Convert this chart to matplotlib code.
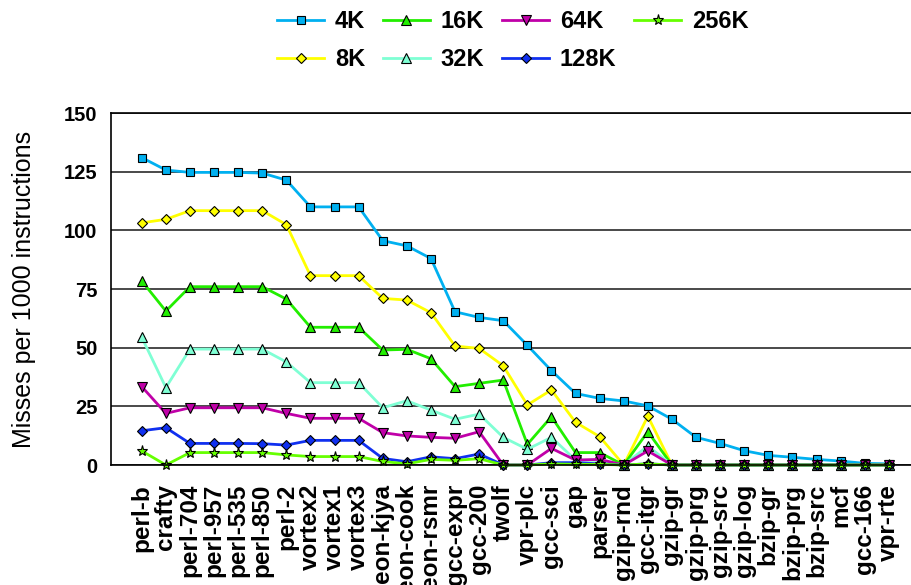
import matplotlib
matplotlib.use("Agg")
import matplotlib.pyplot as plt

plt.rcParams['font.family'] = ['Liberation Sans', 'DejaVu Sans']

benchmarks = ['perl-b', 'crafty', 'perl-704', 'perl-957', 'perl-535', 'perl-850',
              'perl-2', 'vortex2', 'vortex1', 'vortex3', 'eon-kjya', 'eon-cook',
              'eon-rsmr', 'gcc-expr', 'gcc-200', 'twolf', 'vpr-plc', 'gcc-sci',
              'gap', 'parser', 'gzip-rnd', 'gcc-itgr', 'gzip-gr', 'gzip-prg',
              'gzip-src', 'gzip-log', 'bzip-gr', 'bzip-prg', 'bzip-src', 'mcf',
              'gcc-166', 'vpr-rte']

miss_4k = [131, 125.7, 124.7, 124.7, 124.7, 124.4, 121.4, 110, 110, 110, 95.6, 93.4,
           88, 65.3, 62.9, 61.5, 51, 40.2, 30.5, 28.4, 27.3, 25.2, 19.5, 11.8,
           9.2, 6.1, 4.1, 3.3, 2.4, 1.7, 0.7, 0.5]
miss_8k = [103.2, 104.7, 108.4, 108.4, 108.4, 108.4, 102.4, 80.7, 80.7, 80.7, 71, 70.3,
           64.9, 50.7, 49.7, 42.3, 25.6, 32, 18.2, 12.1, 0, 20.8, 0, 0,
           0, 0, 0, 0, 0, 0, 0, 0]
miss_16k = [78.4, 65.6, 76, 76, 76, 76, 70.7, 58.7, 58.7, 58.7, 49, 49.3,
            45.3, 33.4, 34.8, 36.2, 8.8, 20.6, 5.3, 5.3, 0, 14.2, 0, 0,
            0, 0, 0, 0, 0, 0, 0, 0]
miss_32k = [54.4, 33, 49.4, 49.4, 49.4, 49.4, 43.9, 35.1, 35.1, 35.1, 24.4, 27.4,
            23.4, 19.5, 21.7, 11.8, 6.7, 11.8, 2.1, 2, 0, 8.1, 0, 0,
            0, 0, 0, 0, 0, 0, 0, 0]
miss_64k = [33.4, 22, 24.4, 24.4, 24.4, 24.4, 22, 19.9, 19.9, 19.9, 13.8, 12.4,
            11.8, 11.4, 14.2, 0, 0, 7.1, 2.1, 2.4, 0, 6, 0, 0,
            0, 0, 0, 0, 0, 0, 0, 0]
miss_128k = [14.6, 15.9, 9.2, 9.2, 9.2, 9.1, 8.5, 10.5, 10.5, 10.5, 2.8, 1.4,
             3.5, 2.7, 4.7, 0, 0, 1, 1, 0.5, 0, 0.5, 0, 0,
             0, 0, 0, 0, 0, 0, 0, 0]
miss_256k = [6, 0, 5.3, 5.3, 5.3, 5.3, 4.3, 3.6, 3.6, 3.6, 1.5, 0.5,
             2.4, 2, 2.7, 0, 0, 0.5, 0.3, 0.3, 0, 0.5, 0, 0,
             0, 0, 0, 0, 0, 0, 0, 0]

series = [
    ('4K', miss_4k, '#00B0F0', 's', 6.2),
    ('8K', miss_8k, '#FFFF00', 'D', 5.0),
    ('16K', miss_16k, '#22EE00', '^', 7.0),
    ('32K', miss_32k, '#7FFFD4', '^', 7.0),
    ('64K', miss_64k, '#C000A8', 'v', 7.0),
    ('128K', miss_128k, '#1030F0', 'D', 5.0),
    ('256K', miss_256k, '#66FF00', '*', 8.0),
]

fig = plt.figure(figsize=(9.11, 5.85), dpi=100)
ax = fig.add_axes([0.1215, 0.2051, 0.8785, 0.6017])

x = list(range(len(benchmarks)))
for name, vals, color, marker, ms in series:
    ax.plot(x, vals, color=color, lw=2.0, marker=marker, markersize=ms,
            markerfacecolor=color, markeredgecolor='black', markeredgewidth=0.8,
            label=name, clip_on=False)

ax.set_xlim(-1.29, 31.92)
ax.set_ylim(0, 150)
ax.set_yticks([0, 25, 50, 75, 100, 125, 150])
ax.yaxis.grid(True, color='#3a3a3a', lw=1.3)
ax.set_axisbelow(True)
ax.spines['right'].set_visible(False)
for s in ('left', 'top', 'bottom'):
    ax.spines[s].set_color('black')
    ax.spines[s].set_linewidth(1.2)

# benchmark names run off the bottom edge, as long names do on the slide
ax.set_xticks(x)
ax.set_xticklabels(benchmarks, rotation=90, fontsize=17.5, fontweight='bold', va='top')
ax.tick_params(axis='x', length=0, pad=13.5)
ax.tick_params(axis='y', length=0, pad=9.5, labelsize=14.5)
for lbl in ax.get_yticklabels():
    lbl.set_fontweight('bold')

ax.set_ylabel('Misses per 1000 instructions', fontsize=18)
ax.yaxis.set_label_coords(-0.093, 0.5)

fig.legend(loc='upper center', bbox_to_anchor=(0.563, 1.019), ncol=4, frameon=False,
           prop={'size': 17, 'weight': 'bold'}, handlelength=2.0, handletextpad=0.45,
           columnspacing=0.75, labelspacing=0.62)

fig.savefig('out.png', dpi=100)
